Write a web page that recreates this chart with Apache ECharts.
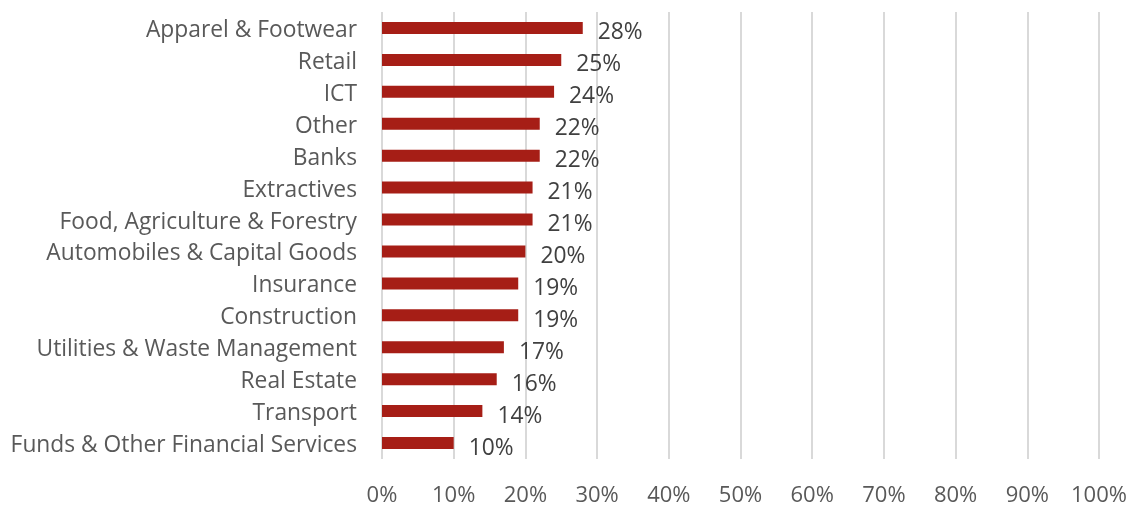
<!DOCTYPE html>
<html>
<head>
<meta charset="utf-8">
<script src="https://cdn.jsdelivr.net/npm/echarts@6/dist/echarts.min.js"></script>
<style>
  html, body { margin: 0; padding: 0; background: #fff; }
  #chart { width: 1138px; height: 507px; }
</style>
</head>
<body>
<div id="chart"></div>
<script>
// sectors, top to bottom
const sectors = [
  'Apparel & Footwear', 'Retail', 'ICT', 'Other', 'Banks', 'Extractives',
  'Food, Agriculture & Forestry', 'Automobiles & Capital Goods', 'Insurance',
  'Construction', 'Utilities & Waste Management', 'Real Estate', 'Transport',
  'Funds & Other Financial Services'
]
const shares = [28, 25, 24, 22, 22, 21, 21, 20, 19, 19, 17, 16, 14, 10]

const chart = echarts.init(document.getElementById('chart'))
chart.setOption({
  animation: false,
  textStyle: { fontFamily: 'Open Sans' },
  grid: { left: 382, right: 39, top: 12, bottom: 46 },
  xAxis: {
    type: 'value',
    min: 0,
    max: 100,
    interval: 10,
    axisLine: { show: false },
    axisTick: { show: false },
    axisLabel: { color: '#595959', fontSize: 22, margin: 26, formatter: '{value}%' },
    splitLine: { lineStyle: { color: '#d9d9d9', width: 2 } }
  },
  yAxis: {
    type: 'category',
    inverse: true,
    data: sectors,
    axisLine: { show: false },
    axisTick: { show: false },
    axisLabel: {
      margin: 25,
      formatter: v => '{s|' + v + '}',
      rich: { s: { color: '#595959', fontSize: 22.8, fontFamily: 'Open Sans', padding: [5, 0, 0, 0] } }
    }
  },
  series: [{
    type: 'bar',
    data: shares,
    barWidth: 12,
    itemStyle: { color: '#a61e16' },
    label: {
      show: true,
      position: 'right',
      distance: 15,
      offset: [0, 5],
      color: '#404040',
      fontSize: 22.8,
      formatter: '{c}%'
    }
  }]
})
</script>
</body>
</html>
